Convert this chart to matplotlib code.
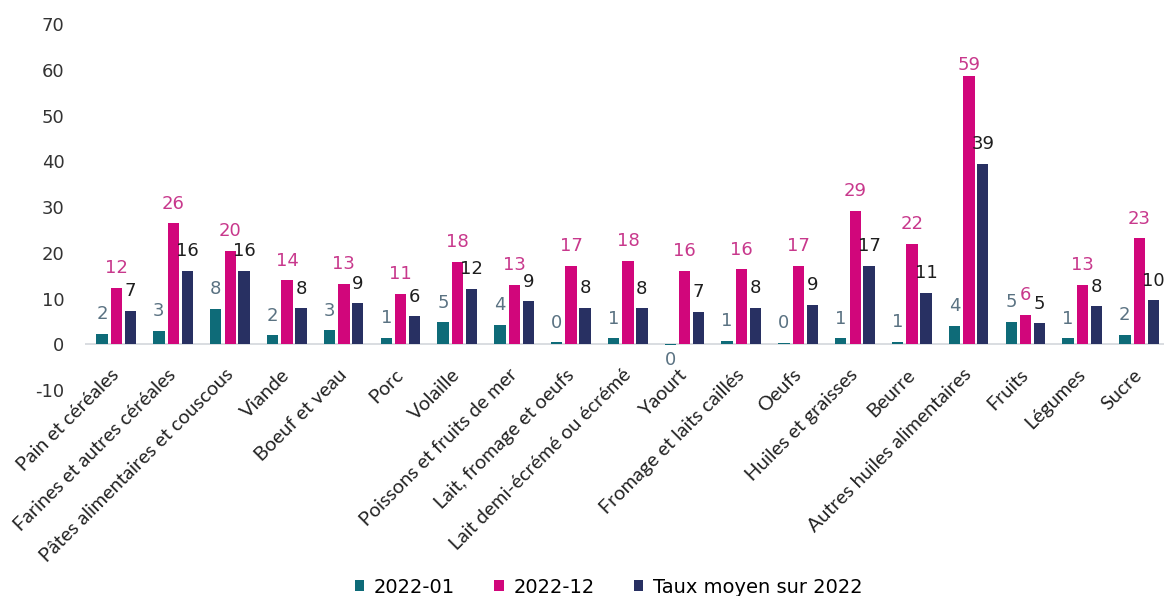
import matplotlib
matplotlib.use("Agg")
import matplotlib.pyplot as plt
from matplotlib.patches import Patch
import numpy as np

categories = ["Pain et céréales", "Farines et autres céréales", "Pâtes alimentaires et couscous",
              "Viande", "Boeuf et veau", "Porc", "Volaille", "Poissons et fruits de mer",
              "Lait, fromage et oeufs", "Lait demi-écrémé ou écrémé", "Yaourt",
              "Fromage et laits caillés", "Oeufs", "Huiles et graisses", "Beurre",
              "Autres huiles alimentaires", "Fruits", "Légumes", "Sucre"]
jan_2022 = [2.3, 2.9, 7.7, 2.0, 3.1, 1.4, 4.8, 4.3, 0.4, 1.3, -0.2, 0.7, 0.3, 1.3, 0.6, 4.1, 4.9, 1.3, 2.1]
dec_2022 = [12.3, 26.4, 20.4, 14.0, 13.2, 11.0, 18.0, 13.0, 17.2, 18.3, 16.0, 16.4, 17.2, 29.2, 22.0, 58.6, 6.4, 13.0, 23.2]
avg_2022 = [7.3, 16.0, 16.0, 7.9, 9.0, 6.1, 12.1, 9.4, 8.0, 7.9, 7.1, 8.0, 8.6, 17.1, 11.3, 39.4, 4.6, 8.3, 9.6]
series_names = ["2022-01", "2022-12", "Taux moyen sur 2022"]
yticks = [-10, 0, 10, 20, 30, 40, 50, 60, 70]

bar_colors = ["#0e6b78", "#d1067b", "#283062"]
label_colors = ["#5a7282", "#c8388c", "#1e1e1e"]

fig = plt.figure(figsize=(11.66, 5.96), dpi=100)
ax = fig.add_axes([0.0732, 0.3456, 0.9249, 0.6141])

x = np.arange(len(categories))
offsets = [-0.255, 0.0, 0.245]
width = 0.2
num_font = "DejaVu Sans"
label_cap = 56.8  # labels are kept inside the plot area

for vals, off, col, lcol in zip([jan_2022, dec_2022, avg_2022], offsets, bar_colors, label_colors):
    bars = ax.bar(x + off, vals, width=width, color=col, zorder=3)
    for b, v in zip(bars, vals):
        cx = b.get_x() + b.get_width() / 2
        txt = f"{int(round(v))}"
        if v >= 0:
            ax.annotate(txt, (cx, min(v, label_cap)), xytext=(0, 10.5), textcoords="offset points",
                        ha="center", va="baseline", fontsize=13, color=lcol,
                        family=num_font, zorder=4)
        else:
            ax.annotate(txt, (cx, v), xytext=(0, -4), textcoords="offset points",
                        ha="center", va="top", fontsize=13, color=lcol,
                        family=num_font, zorder=4)

ax.axhline(0, color="#d3d7dc", linewidth=1.2, zorder=2)
ax.set_ylim(-10, 70)
ax.set_xlim(-0.55, 18.43)
ax.set_yticks(yticks)
ax.set_yticklabels([str(t) for t in yticks], fontsize=13, color="#333333", family=num_font)
ax.tick_params(axis="y", length=0, pad=15)
ax.set_xticks(x)
ax.set_xticklabels(categories, rotation=45, ha="right", va="center", rotation_mode="anchor",
                   fontsize=14.2, color="#222222", family="Lato")
ax.tick_params(axis="x", length=0, pad=-13)
for s in ax.spines.values():
    s.set_visible(False)

handles = [Patch(facecolor=c, edgecolor="none") for c in bar_colors]
fig.legend(handles, series_names, loc="center", bbox_to_anchor=(0.522, 0.015), ncol=3,
           frameon=False, prop={"family": num_font, "size": 14}, handlelength=0.5,
           handleheight=0.5, handletextpad=0.5, columnspacing=2.0)

fig.savefig("out.png", dpi=100, facecolor="white")
